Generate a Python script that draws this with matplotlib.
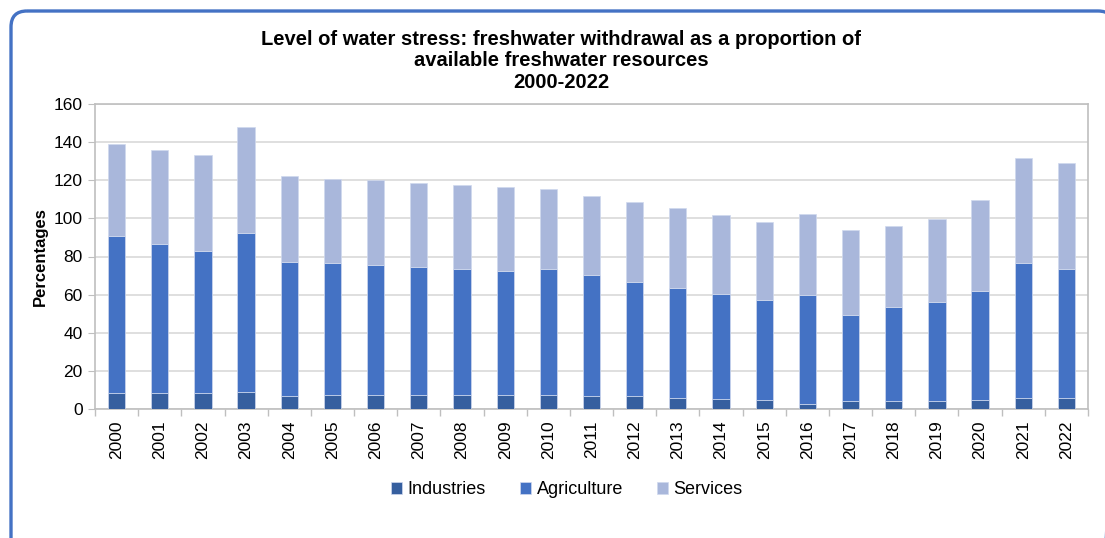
import numpy as np
import matplotlib
matplotlib.use("Agg")
import matplotlib.pyplot as plt
from matplotlib.patches import FancyBboxPatch
from matplotlib.ticker import FixedLocator

plt.rcParams['font.family'] = ['Liberation Sans', 'DejaVu Sans']

years = [str(y) for y in range(2000, 2023)]
industries = [8.6, 8.6, 8.6, 9.1, 6.7, 7.2, 7.2, 7.5, 7.5, 7.5, 7.5, 7.0,
              6.7, 6.0, 5.3, 4.9, 2.6, 4.4, 4.4, 4.4, 4.9, 6.0, 6.0]
agriculture = [82.4, 78.2, 74.5, 83.3, 70.6, 69.2, 68.3, 67.0, 66.1, 64.7, 66.1, 63.5,
               59.9, 57.3, 54.8, 52.4, 57.0, 44.8, 49.2, 51.5, 57.1, 70.6, 67.6]
services = [47.8, 49.0, 49.9, 55.7, 45.0, 44.5, 44.4, 44.0, 44.0, 44.0, 41.7, 41.5,
            42.2, 42.2, 41.5, 41.0, 42.9, 44.9, 42.4, 43.6, 47.7, 55.0, 55.7]

series_names = ["Industries", "Agriculture", "Services"]
colors = ["#365F9F", "#4472C4", "#A9B7DB"]

fig = plt.figure(figsize=(11.05, 5.38), dpi=100)
ax = fig.add_axes([95 / 1105, 1 - 409 / 538, (1088 - 95) / 1105, (409 - 104) / 538])

x = np.arange(len(years))
width = 0.40
bottom = np.zeros(len(years))
for name, vals, col in zip(series_names, [industries, agriculture, services], colors):
    ax.bar(x, vals, width, bottom=bottom, color=col, label=name,
           edgecolor="#D0D9EE", linewidth=0.5, zorder=3)
    bottom += np.array(vals)

ax.set_xlim(-0.5, len(years) - 0.5)
ax.set_ylim(0, 160)
ax.set_yticks(np.arange(0, 161, 20))
ax.yaxis.grid(True, color="#D9D9D9", linewidth=1.2, zorder=0)
ax.tick_params(axis='y', length=5, color="#BFBFBF", labelsize=12.5, pad=4)

ax.set_xticks(x)
ax.set_xticklabels(years, rotation=90, fontsize=12.5)
ax.xaxis.set_minor_locator(FixedLocator(np.arange(-0.5, len(years), 1.0)))
ax.tick_params(axis='x', which='major', length=0, pad=8)
ax.tick_params(axis='x', which='minor', length=5, color="#BFBFBF", width=1)

for side in ["left", "right", "top", "bottom"]:
    ax.spines[side].set_color("#BFBFBF")
    ax.spines[side].set_linewidth(1.2)

ax.set_ylabel("Percentages", fontsize=12, fontweight="bold", labelpad=4)

fig.text(0.508, 1 - 61 / 538,
         "Level of water stress: freshwater withdrawal as a proportion of\n"
         "available freshwater resources\n2000-2022",
         ha="center", va="center", fontsize=14.5, fontweight="bold", linespacing=1.17)

handles, labels = ax.get_legend_handles_labels()
fig.legend(handles, labels, loc="center", bbox_to_anchor=(567 / 1105, 1 - 490 / 538),
           ncol=3, frameon=False, fontsize=13, handlelength=0.6, handleheight=0.6,
           handletextpad=0.3, columnspacing=1.9)

# rounded frame around the whole chart, running off the right and bottom edges
frame_ax = fig.add_axes([0, 0, 1, 1], zorder=-1)
frame_ax.set_xlim(0, 1105)
frame_ax.set_ylim(538, 0)
frame_ax.axis("off")
frame_ax.add_patch(FancyBboxPatch((11, 11), 1103, 580, boxstyle="round,pad=0,rounding_size=16",
                                  facecolor="none", edgecolor="#4472C4", linewidth=2.4,
                                  clip_on=False))

fig.savefig("out.png", dpi=100)
